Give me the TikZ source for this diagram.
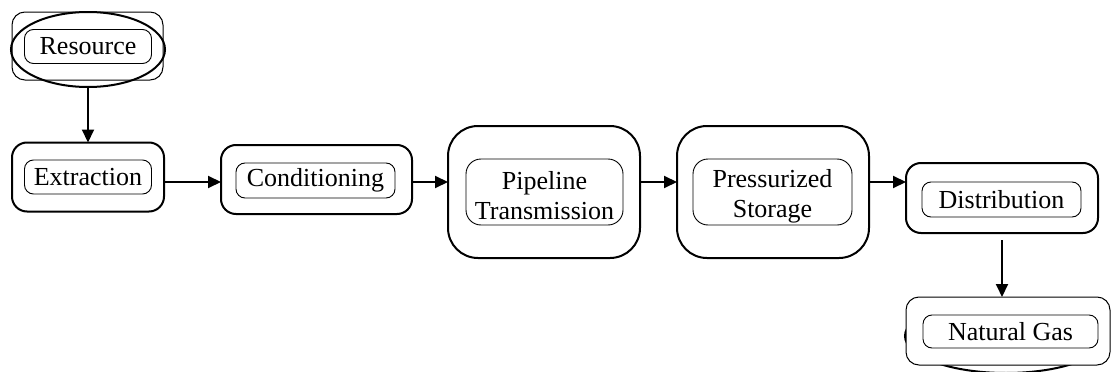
\documentclass[tikz,border=0pt]{standalone}
\usepackage{fontspec}
\setmainfont{Liberation Serif}
\usetikzlibrary{arrows.meta,shapes.geometric}
\tikzset{
  every node/.style={inner sep=0pt, outer sep=0pt},
  outerbox/.style={draw, line width=2pt, rounded corners=15pt, fill=white},
  bigouter/.style={draw, line width=2pt, rounded corners=30pt, fill=white},
  thinouter/.style={draw, line width=1pt, rounded corners=13pt, fill=white},
  innerbox/.style={draw, line width=0.9pt, rounded corners=9pt, font=\fontsize{26}{30}\selectfont, align=center},
  txt/.style={font=\fontsize{26}{30}\selectfont, align=center},
  ell/.style={draw, ellipse, line width=2pt},
  flowarrow/.style={line width=2pt, -{Triangle[length=13pt,width=12pt]}}
}
\begin{document}
\begin{tikzpicture}[x=1pt,y=-1pt]
\useasboundingbox (0,0) rectangle (1112,372);
% Natural Gas ellipse behind
\node[ell, minimum width=202pt, minimum height=74pt] (natE) at (1006,336) {};
\node[thinouter, minimum width=204pt, minimum height=68pt] (natO) at (1008,331) {};
\node[innerbox, minimum width=175pt, minimum height=33pt] (natI) at (1010.5,331.5) {Natural Gas};
% Resource
\node[thinouter, minimum width=151pt, minimum height=68pt] (resO) at (87.5,46) {};
\node[ell, minimum width=154pt, minimum height=75pt] (resE) at (88,49.5) {};
\node[innerbox, minimum width=127pt, minimum height=34pt] (resI) at (88,46.5) {Resource};
% Extraction
\node[outerbox, minimum width=152pt, minimum height=69pt] (extO) at (88,177) {};
\node[innerbox, minimum width=127pt, minimum height=34pt] (extI) at (88,177) {Extraction};
% Conditioning
\node[outerbox, minimum width=191pt, minimum height=69pt] (conO) at (316.5,179.5) {};
\node[innerbox, minimum width=159pt, minimum height=35pt] (conI) at (315.5,180.5) {Conditioning};
% Pipeline Transmission
\node[bigouter, minimum width=192pt, minimum height=132pt] (pipO) at (544,192) {};
\node[innerbox, rounded corners=15pt, minimum width=157pt, minimum height=66pt] (pipI) at (544.5,192) {};
\node[txt] (pipT) at (544.5,198) {Pipeline\strut\\Transmission\strut};
% Pressurized Storage
\node[bigouter, minimum width=192pt, minimum height=132pt] (preO) at (773,192) {};
\node[innerbox, rounded corners=15pt, minimum width=159pt, minimum height=66pt] (preI) at (772.5,192) {};
\node[txt] (preT) at (772.5,196) {Pressurized\strut\\Storage\strut};
% Distribution
\node[outerbox, minimum width=192pt, minimum height=70pt] (disO) at (1002,198) {};
\node[innerbox, minimum width=159pt, minimum height=35pt] (disI) at (1001.5,199.5) {Distribution};
% flow level
\coordinate (flow) at (0,182);
% arrows
\draw[flowarrow] (resE.south) -- (extO.north);
\draw[flowarrow] (extO.east |- flow) -- (conO.west |- flow);
\draw[flowarrow] (conO.east |- flow) -- (pipO.west |- flow);
\draw[flowarrow] (pipO.east |- flow) -- (preO.west |- flow);
\draw[flowarrow] (preO.east |- flow) -- (disO.west |- flow);
\draw[flowarrow, shorten <=7pt] (disO.south) -- (natO.north -| disO.south);
\end{tikzpicture}
\end{document}
